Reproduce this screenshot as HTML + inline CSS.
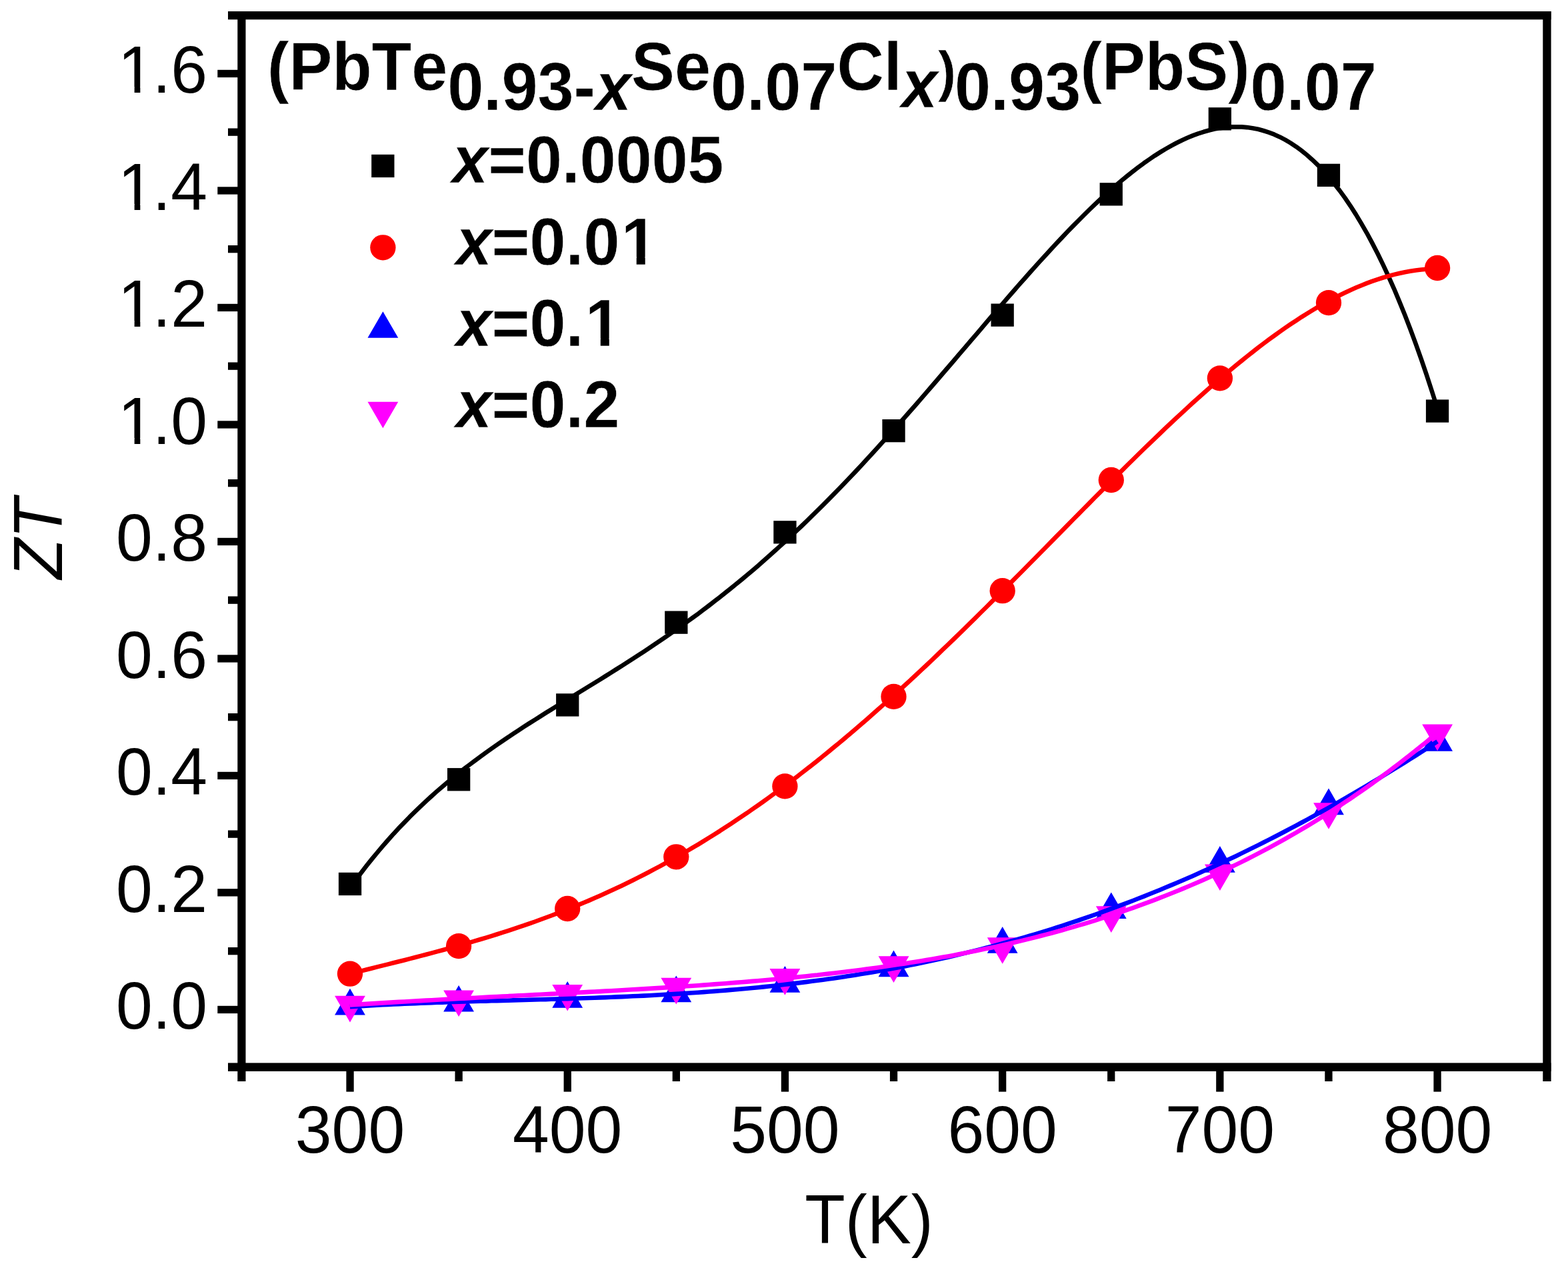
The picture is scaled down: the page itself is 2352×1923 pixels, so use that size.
<!DOCTYPE html>
<html lang="en"><head><meta charset="utf-8"><title>ZT vs T</title>
<style>
html,body{margin:0;padding:0;background:#fff;}
body{width:2352px;height:1923px;overflow:hidden;}
svg{display:block;}
text{font-family:"Liberation Sans",sans-serif;fill:#000;font-kerning:none;}
.tk{font-size:98.5px;}
.ttl{font-size:97.3px;font-weight:bold;}
.lg{font-size:97.0px;font-weight:bold;}
.ax{font-size:99px;}
.i{font-style:italic;}
.sp{font-size:80px;}
.tb{stroke:#fff;stroke-width:0.4px;stroke-linejoin:round;}
</style></head><body>
<svg width="2352" height="1923" viewBox="0 0 2352 1923">
<rect width="2352" height="1923" fill="#fff"/>
<g fill="#000">
<rect x="356.3" y="17.0" width="12.2" height="1605.0"/>
<rect x="2314.3" y="17.0" width="12.3" height="1605.0"/>
<rect x="342.0" y="17.0" width="1984.6" height="12.3"/>
<rect x="342.0" y="1594.4" width="1984.6" height="12.5"/>
<rect x="326.3" y="1508.8" width="31.0" height="11.3"/>
<rect x="342.0" y="1421.0" width="15.3" height="11.3"/>
<rect x="326.3" y="1333.2" width="31.0" height="11.3"/>
<rect x="342.0" y="1245.5" width="15.3" height="11.3"/>
<rect x="326.3" y="1157.8" width="31.0" height="11.3"/>
<rect x="342.0" y="1070.0" width="15.3" height="11.3"/>
<rect x="326.3" y="982.3" width="31.0" height="11.3"/>
<rect x="342.0" y="894.5" width="15.3" height="11.3"/>
<rect x="326.3" y="806.8" width="31.0" height="11.3"/>
<rect x="342.0" y="719.0" width="15.3" height="11.3"/>
<rect x="326.3" y="631.3" width="31.0" height="11.3"/>
<rect x="342.0" y="543.5" width="15.3" height="11.3"/>
<rect x="326.3" y="455.8" width="31.0" height="11.3"/>
<rect x="342.0" y="368.0" width="15.3" height="11.3"/>
<rect x="326.3" y="280.3" width="31.0" height="11.3"/>
<rect x="342.0" y="192.5" width="15.3" height="11.3"/>
<rect x="326.3" y="104.8" width="31.0" height="11.3"/>
<rect x="519.4" y="1605.9" width="11.3" height="31.7"/>
<rect x="682.5" y="1605.9" width="11.3" height="16.1"/>
<rect x="845.6" y="1605.9" width="11.3" height="31.7"/>
<rect x="1008.7" y="1605.9" width="11.3" height="16.1"/>
<rect x="1171.8" y="1605.9" width="11.3" height="31.7"/>
<rect x="1334.9" y="1605.9" width="11.3" height="16.1"/>
<rect x="1498.0" y="1605.9" width="11.3" height="31.7"/>
<rect x="1661.1" y="1605.9" width="11.3" height="16.1"/>
<rect x="1824.2" y="1605.9" width="11.3" height="31.7"/>
<rect x="1987.3" y="1605.9" width="11.3" height="16.1"/>
<rect x="2150.4" y="1605.9" width="11.3" height="31.7"/>
</g>
<text class="tk" transform="translate(174.07,1543.10) scale(1.0000,1.0120)">0.0</text>
<text class="tk" transform="translate(174.07,1367.60) scale(1.0000,1.0120)">0.2</text>
<text class="tk" transform="translate(174.07,1192.10) scale(1.0000,1.0120)">0.4</text>
<text class="tk" transform="translate(174.07,1016.60) scale(1.0000,1.0120)">0.6</text>
<text class="tk" transform="translate(174.07,841.10) scale(1.0000,1.0120)">0.8</text>
<text class="tk" transform="translate(174.07,665.60) scale(1.0000,1.0120)"><tspan dx="2.8">1</tspan><tspan dx="-2.8">.0</tspan></text>
<rect x="183.17" y="656.95" width="18.47" height="9.85" fill="#fff"/><rect x="210.35" y="656.95" width="17.70" height="9.85" fill="#fff"/>
<text class="tk" transform="translate(174.07,490.10) scale(1.0000,1.0120)"><tspan dx="2.8">1</tspan><tspan dx="-2.8">.2</tspan></text>
<rect x="183.17" y="481.45" width="18.47" height="9.85" fill="#fff"/><rect x="210.35" y="481.45" width="17.70" height="9.85" fill="#fff"/>
<text class="tk" transform="translate(174.07,314.60) scale(1.0000,1.0120)"><tspan dx="2.8">1</tspan><tspan dx="-2.8">.4</tspan></text>
<rect x="183.17" y="305.95" width="18.47" height="9.85" fill="#fff"/><rect x="210.35" y="305.95" width="17.70" height="9.85" fill="#fff"/>
<text class="tk" transform="translate(174.07,139.10) scale(1.0000,1.0120)"><tspan dx="2.8">1</tspan><tspan dx="-2.8">.6</tspan></text>
<rect x="183.17" y="130.45" width="18.47" height="9.85" fill="#fff"/><rect x="210.35" y="130.45" width="17.70" height="9.85" fill="#fff"/>
<text class="tk" transform="translate(525.00,1729.20) scale(1.0000,1.0120)" text-anchor="middle">300</text>
<text class="tk" transform="translate(851.22,1729.20) scale(1.0000,1.0120)" text-anchor="middle">400</text>
<text class="tk" transform="translate(1177.44,1729.20) scale(1.0000,1.0120)" text-anchor="middle">500</text>
<text class="tk" transform="translate(1503.66,1729.20) scale(1.0000,1.0120)" text-anchor="middle">600</text>
<text class="tk" transform="translate(1829.88,1729.20) scale(1.0000,1.0120)" text-anchor="middle">700</text>
<text class="tk" transform="translate(2156.10,1729.20) scale(1.0000,1.0120)" text-anchor="middle">800</text>
<text class="ax" transform="translate(1207.30,1865.00) scale(1.0000,1.0400)">T(K)</text>
<text class="ax i" transform="translate(93.30,868.50) rotate(-90) scale(1.0000,1.0400)">ZT</text>
<g>
<rect x="507.9" y="1308.8" width="34.3" height="34.3" fill="#000"/>
<rect x="671.0" y="1152.1" width="34.3" height="34.3" fill="#000"/>
<rect x="834.1" y="1040.3" width="34.3" height="34.3" fill="#000"/>
<rect x="997.2" y="916.5" width="34.3" height="34.3" fill="#000"/>
<rect x="1160.3" y="781.2" width="34.3" height="34.3" fill="#000"/>
<rect x="1323.4" y="629.0" width="34.3" height="34.3" fill="#000"/>
<rect x="1486.5" y="455.5" width="34.3" height="34.3" fill="#000"/>
<rect x="1649.6" y="274.2" width="34.3" height="34.3" fill="#000"/>
<rect x="1812.7" y="161.2" width="34.3" height="34.3" fill="#000"/>
<rect x="1975.8" y="245.7" width="34.3" height="34.3" fill="#000"/>
<rect x="2138.9" y="599.4" width="34.3" height="34.3" fill="#000"/>
</g>
<g>
<circle cx="525.0" cy="1460.7" r="19.15" fill="#f00"/>
<circle cx="688.1" cy="1419.1" r="19.15" fill="#f00"/>
<circle cx="851.2" cy="1363.0" r="19.15" fill="#f00"/>
<circle cx="1014.3" cy="1285.3" r="19.15" fill="#f00"/>
<circle cx="1177.4" cy="1179.4" r="19.15" fill="#f00"/>
<circle cx="1340.5" cy="1044.9" r="19.15" fill="#f00"/>
<circle cx="1503.7" cy="886.2" r="19.15" fill="#f00"/>
<circle cx="1666.8" cy="720.0" r="19.15" fill="#f00"/>
<circle cx="1829.9" cy="567.4" r="19.15" fill="#f00"/>
<circle cx="1993.0" cy="454.1" r="19.15" fill="#f00"/>
<circle cx="2156.1" cy="402.0" r="19.15" fill="#f00"/>
</g>
<g>
<polygon points="525.0,1482.8 502.1,1522.4 547.9,1522.4" fill="#00f"/>
<polygon points="688.1,1478.0 665.2,1517.6 711.0,1517.6" fill="#00f"/>
<polygon points="851.2,1472.1 828.3,1511.7 874.1,1511.7" fill="#00f"/>
<polygon points="1014.3,1463.6 991.4,1503.2 1037.2,1503.2" fill="#00f"/>
<polygon points="1177.4,1449.1 1154.5,1488.7 1200.3,1488.7" fill="#00f"/>
<polygon points="1340.5,1425.6 1317.6,1465.2 1363.5,1465.2" fill="#00f"/>
<polygon points="1503.7,1390.1 1480.8,1429.7 1526.6,1429.7" fill="#00f"/>
<polygon points="1666.8,1338.5 1643.9,1378.1 1689.7,1378.1" fill="#00f"/>
<polygon points="1829.9,1269.1 1807.0,1308.7 1852.8,1308.7" fill="#00f"/>
<polygon points="1993.0,1182.6 1970.1,1222.2 2015.9,1222.2" fill="#00f"/>
<polygon points="2156.1,1087.1 2133.2,1126.7 2179.0,1126.7" fill="#00f"/>
</g>
<g>
<polygon points="525.0,1533.4 502.1,1493.8 547.9,1493.8" fill="#f0f"/>
<polygon points="688.1,1525.1 665.2,1485.5 711.0,1485.5" fill="#f0f"/>
<polygon points="851.2,1516.5 828.3,1476.9 874.1,1476.9" fill="#f0f"/>
<polygon points="1014.3,1506.4 991.4,1466.8 1037.2,1466.8" fill="#f0f"/>
<polygon points="1177.4,1492.7 1154.5,1453.1 1200.3,1453.1" fill="#f0f"/>
<polygon points="1340.5,1473.9 1317.6,1434.3 1363.5,1434.3" fill="#f0f"/>
<polygon points="1503.7,1445.8 1480.8,1406.2 1526.6,1406.2" fill="#f0f"/>
<polygon points="1666.8,1398.9 1643.9,1359.3 1689.7,1359.3" fill="#f0f"/>
<polygon points="1829.9,1336.0 1807.0,1296.4 1852.8,1296.4" fill="#f0f"/>
<polygon points="1993.0,1243.8 1970.1,1204.2 2015.9,1204.2" fill="#f0f"/>
<polygon points="2156.1,1126.2 2133.2,1086.6 2179.0,1086.6" fill="#f0f"/>
</g>
<polyline fill="none" stroke="#000" stroke-width="6.6" stroke-linejoin="round" stroke-linecap="butt" points="525.0,1331.7 533.2,1320.5 541.3,1309.7 549.5,1299.1 557.6,1288.9 565.8,1279.0 573.9,1269.4 582.1,1260.0 590.2,1250.9 598.4,1242.1 606.6,1233.6 614.7,1225.2 622.9,1217.2 631.0,1209.3 639.2,1201.6 647.3,1194.2 655.5,1186.9 663.6,1179.9 671.8,1173.0 680.0,1166.2 688.1,1159.7 696.3,1153.2 704.4,1147.0 712.6,1140.8 720.7,1134.8 728.9,1128.9 737.0,1123.1 745.2,1117.4 753.4,1111.8 761.5,1106.3 769.7,1100.8 777.8,1095.5 786.0,1090.1 794.1,1084.9 802.3,1079.7 810.4,1074.6 818.6,1069.4 826.8,1064.4 834.9,1059.3 843.1,1054.3 851.2,1049.3 859.4,1044.3 867.5,1039.2 875.7,1034.2 883.8,1029.2 892.0,1024.2 900.2,1019.2 908.3,1014.1 916.5,1009.0 924.6,1003.9 932.8,998.7 940.9,993.5 949.1,988.3 957.2,983.0 965.4,977.7 973.6,972.3 981.7,966.8 989.9,961.3 998.0,955.7 1006.2,950.1 1014.3,944.4 1022.5,938.6 1030.6,932.7 1038.8,926.8 1047.0,920.8 1055.1,914.7 1063.3,908.5 1071.4,902.2 1079.6,895.9 1087.7,889.4 1095.9,882.9 1104.0,876.3 1112.2,869.6 1120.4,862.8 1128.5,855.9 1136.7,848.9 1144.8,841.8 1153.0,834.6 1161.1,827.3 1169.3,819.9 1177.4,812.5 1185.6,804.9 1193.8,797.2 1201.9,789.5 1210.1,781.6 1218.2,773.7 1226.4,765.7 1234.5,757.6 1242.7,749.4 1250.8,741.1 1259.0,732.7 1267.2,724.2 1275.3,715.7 1283.5,707.1 1291.6,698.4 1299.8,689.6 1307.9,680.7 1316.1,671.8 1324.2,662.8 1332.4,653.8 1340.5,644.7 1348.7,635.5 1356.9,626.3 1365.0,617.0 1373.2,607.7 1381.3,598.3 1389.5,588.9 1397.6,579.5 1405.8,570.0 1413.9,560.5 1422.1,551.0 1430.3,541.5 1438.4,531.9 1446.6,522.4 1454.7,512.8 1462.9,503.3 1471.0,493.8 1479.2,484.2 1487.3,474.7 1495.5,465.2 1503.7,455.8 1511.8,446.4 1520.0,437.0 1528.1,427.7 1536.3,418.5 1544.4,409.3 1552.6,400.1 1560.7,391.1 1568.9,382.2 1577.1,373.3 1585.2,364.5 1593.4,355.9 1601.5,347.3 1609.7,338.9 1617.8,330.7 1626.0,322.5 1634.1,314.5 1642.3,306.7 1650.5,299.0 1658.6,291.6 1666.8,284.3 1674.9,277.2 1683.1,270.2 1691.2,263.6 1699.4,257.1 1707.5,250.8 1715.7,244.8 1723.9,239.1 1732.0,233.6 1740.2,228.4 1748.3,223.5 1756.5,218.8 1764.6,214.5 1772.8,210.5 1780.9,206.8 1789.1,203.4 1797.3,200.4 1805.4,197.8 1813.6,195.5 1821.7,193.6 1829.9,192.1 1838.0,191.1 1846.2,190.4 1854.3,190.2 1862.5,190.4 1870.7,191.1 1878.8,192.2 1887.0,193.8 1895.1,196.0 1903.3,198.6 1911.4,201.7 1919.6,205.4 1927.7,209.7 1935.9,214.5 1944.1,219.9 1952.2,225.9 1960.4,232.5 1968.5,239.7 1976.7,247.5 1984.8,256.0 1993.0,265.2 2001.1,275.1 2009.3,285.6 2017.5,296.9 2025.6,308.8 2033.8,321.6 2041.9,335.1 2050.1,349.3 2058.2,364.4 2066.4,380.2 2074.5,396.9 2082.7,414.5 2090.9,432.8 2099.0,452.1 2107.2,472.2 2115.3,493.3 2123.5,515.3 2131.6,538.2 2139.8,562.1 2147.9,587.0 2156.1,612.8"/>
<polyline fill="none" stroke="#f00" stroke-width="6.6" stroke-linejoin="round" stroke-linecap="butt" points="525.0,1460.7 533.2,1458.7 541.3,1456.6 549.5,1454.5 557.6,1452.5 565.8,1450.4 573.9,1448.4 582.1,1446.4 590.2,1444.3 598.4,1442.2 606.6,1440.2 614.7,1438.1 622.9,1436.0 631.0,1433.9 639.2,1431.8 647.3,1429.6 655.5,1427.4 663.6,1425.2 671.8,1423.0 680.0,1420.8 688.1,1418.5 696.3,1416.2 704.4,1413.8 712.6,1411.4 720.7,1409.0 728.9,1406.6 737.0,1404.1 745.2,1401.5 753.4,1398.9 761.5,1396.3 769.7,1393.6 777.8,1390.9 786.0,1388.2 794.1,1385.3 802.3,1382.5 810.4,1379.5 818.6,1376.5 826.8,1373.5 834.9,1370.4 843.1,1367.2 851.2,1364.0 859.4,1360.8 867.5,1357.4 875.7,1354.0 883.8,1350.6 892.0,1347.0 900.2,1343.4 908.3,1339.8 916.5,1336.0 924.6,1332.3 932.8,1328.4 940.9,1324.5 949.1,1320.5 957.2,1316.4 965.4,1312.2 973.6,1308.0 981.7,1303.7 989.9,1299.4 998.0,1294.9 1006.2,1290.4 1014.3,1285.9 1022.5,1281.2 1030.6,1276.5 1038.8,1271.7 1047.0,1266.8 1055.1,1261.9 1063.3,1256.8 1071.4,1251.7 1079.6,1246.6 1087.7,1241.3 1095.9,1236.0 1104.0,1230.6 1112.2,1225.1 1120.4,1219.6 1128.5,1213.9 1136.7,1208.2 1144.8,1202.5 1153.0,1196.6 1161.1,1190.7 1169.3,1184.7 1177.4,1178.7 1185.6,1172.5 1193.8,1166.3 1201.9,1160.0 1210.1,1153.7 1218.2,1147.3 1226.4,1140.8 1234.5,1134.2 1242.7,1127.6 1250.8,1120.9 1259.0,1114.2 1267.2,1107.4 1275.3,1100.5 1283.5,1093.5 1291.6,1086.5 1299.8,1079.4 1307.9,1072.3 1316.1,1065.1 1324.2,1057.9 1332.4,1050.6 1340.5,1043.2 1348.7,1035.8 1356.9,1028.3 1365.0,1020.8 1373.2,1013.3 1381.3,1005.6 1389.5,998.0 1397.6,990.3 1405.8,982.5 1413.9,974.7 1422.1,966.9 1430.3,959.0 1438.4,951.1 1446.6,943.1 1454.7,935.1 1462.9,927.1 1471.0,919.0 1479.2,911.0 1487.3,902.9 1495.5,894.7 1503.7,886.6 1511.8,878.4 1520.0,870.2 1528.1,862.0 1536.3,853.7 1544.4,845.5 1552.6,837.2 1560.7,829.0 1568.9,820.7 1577.1,812.4 1585.2,804.1 1593.4,795.9 1601.5,787.6 1609.7,779.3 1617.8,771.1 1626.0,762.8 1634.1,754.6 1642.3,746.3 1650.5,738.1 1658.6,730.0 1666.8,721.8 1674.9,713.7 1683.1,705.6 1691.2,697.5 1699.4,689.5 1707.5,681.5 1715.7,673.5 1723.9,665.6 1732.0,657.8 1740.2,650.0 1748.3,642.2 1756.5,634.5 1764.6,626.9 1772.8,619.3 1780.9,611.8 1789.1,604.3 1797.3,597.0 1805.4,589.7 1813.6,582.5 1821.7,575.3 1829.9,568.3 1838.0,561.3 1846.2,554.5 1854.3,547.7 1862.5,541.1 1870.7,534.5 1878.8,528.1 1887.0,521.7 1895.1,515.5 1903.3,509.4 1911.4,503.5 1919.6,497.6 1927.7,491.9 1935.9,486.3 1944.1,480.9 1952.2,475.6 1960.4,470.5 1968.5,465.5 1976.7,460.7 1984.8,456.0 1993.0,451.5 2001.1,447.1 2009.3,443.0 2017.5,439.0 2025.6,435.2 2033.8,431.6 2041.9,428.2 2050.1,424.9 2058.2,421.9 2066.4,419.1 2074.5,416.5 2082.7,414.1 2090.9,411.9 2099.0,410.0 2107.2,408.2 2115.3,406.7 2123.5,405.5 2131.6,404.5 2139.8,403.7 2147.9,403.2 2156.1,403.0"/>
<polyline fill="none" stroke="#00f" stroke-width="6.6" stroke-linejoin="round" stroke-linecap="butt" points="525.0,1510.1 533.2,1509.6 541.3,1509.1 549.5,1508.6 557.6,1508.1 565.8,1507.7 573.9,1507.3 582.1,1506.9 590.2,1506.5 598.4,1506.1 606.6,1505.7 614.7,1505.4 622.9,1505.1 631.0,1504.7 639.2,1504.4 647.3,1504.1 655.5,1503.8 663.6,1503.6 671.8,1503.3 680.0,1503.0 688.1,1502.8 696.3,1502.5 704.4,1502.3 712.6,1502.0 720.7,1501.8 728.9,1501.6 737.0,1501.3 745.2,1501.1 753.4,1500.9 761.5,1500.7 769.7,1500.4 777.8,1500.2 786.0,1500.0 794.1,1499.8 802.3,1499.5 810.4,1499.3 818.6,1499.1 826.8,1498.8 834.9,1498.6 843.1,1498.3 851.2,1498.1 859.4,1497.8 867.5,1497.5 875.7,1497.3 883.8,1497.0 892.0,1496.7 900.2,1496.4 908.3,1496.1 916.5,1495.8 924.6,1495.4 932.8,1495.1 940.9,1494.7 949.1,1494.3 957.2,1494.0 965.4,1493.6 973.6,1493.2 981.7,1492.7 989.9,1492.3 998.0,1491.8 1006.2,1491.4 1014.3,1490.9 1022.5,1490.4 1030.6,1489.8 1038.8,1489.3 1047.0,1488.7 1055.1,1488.1 1063.3,1487.5 1071.4,1486.9 1079.6,1486.3 1087.7,1485.6 1095.9,1484.9 1104.0,1484.2 1112.2,1483.5 1120.4,1482.8 1128.5,1482.0 1136.7,1481.2 1144.8,1480.4 1153.0,1479.5 1161.1,1478.7 1169.3,1477.8 1177.4,1476.8 1185.6,1475.9 1193.8,1474.9 1201.9,1473.9 1210.1,1472.9 1218.2,1471.8 1226.4,1470.8 1234.5,1469.7 1242.7,1468.5 1250.8,1467.4 1259.0,1466.2 1267.2,1464.9 1275.3,1463.7 1283.5,1462.4 1291.6,1461.1 1299.8,1459.7 1307.9,1458.4 1316.1,1456.9 1324.2,1455.5 1332.4,1454.0 1340.5,1452.5 1348.7,1451.0 1356.9,1449.4 1365.0,1447.8 1373.2,1446.2 1381.3,1444.5 1389.5,1442.8 1397.6,1441.1 1405.8,1439.3 1413.9,1437.5 1422.1,1435.7 1430.3,1433.8 1438.4,1431.9 1446.6,1429.9 1454.7,1427.9 1462.9,1425.9 1471.0,1423.9 1479.2,1421.8 1487.3,1419.6 1495.5,1417.5 1503.7,1415.3 1511.8,1413.0 1520.0,1410.8 1528.1,1408.5 1536.3,1406.1 1544.4,1403.7 1552.6,1401.3 1560.7,1398.8 1568.9,1396.3 1577.1,1393.8 1585.2,1391.2 1593.4,1388.6 1601.5,1385.9 1609.7,1383.2 1617.8,1380.5 1626.0,1377.7 1634.1,1374.9 1642.3,1372.0 1650.5,1369.2 1658.6,1366.2 1666.8,1363.2 1674.9,1360.2 1683.1,1357.2 1691.2,1354.1 1699.4,1351.0 1707.5,1347.8 1715.7,1344.6 1723.9,1341.3 1732.0,1338.0 1740.2,1334.7 1748.3,1331.3 1756.5,1327.9 1764.6,1324.5 1772.8,1321.0 1780.9,1317.5 1789.1,1313.9 1797.3,1310.3 1805.4,1306.6 1813.6,1302.9 1821.7,1299.2 1829.9,1295.4 1838.0,1291.6 1846.2,1287.7 1854.3,1283.9 1862.5,1279.9 1870.7,1275.9 1878.8,1271.9 1887.0,1267.9 1895.1,1263.8 1903.3,1259.6 1911.4,1255.5 1919.6,1251.3 1927.7,1247.0 1935.9,1242.7 1944.1,1238.4 1952.2,1234.0 1960.4,1229.6 1968.5,1225.2 1976.7,1220.7 1984.8,1216.1 1993.0,1211.6 2001.1,1207.0 2009.3,1202.3 2017.5,1197.6 2025.6,1192.9 2033.8,1188.2 2041.9,1183.4 2050.1,1178.5 2058.2,1173.7 2066.4,1168.8 2074.5,1163.8 2082.7,1158.8 2090.9,1153.8 2099.0,1148.7 2107.2,1143.6 2115.3,1138.5 2123.5,1133.4 2131.6,1128.2 2139.8,1122.9 2147.9,1117.6 2156.1,1112.3"/>
<polyline fill="none" stroke="#f0f" stroke-width="6.6" stroke-linejoin="round" stroke-linecap="butt" points="525.0,1507.4 533.2,1506.9 541.3,1506.4 549.5,1505.9 557.6,1505.4 565.8,1504.9 573.9,1504.4 582.1,1503.9 590.2,1503.4 598.4,1502.9 606.6,1502.5 614.7,1502.0 622.9,1501.5 631.0,1501.1 639.2,1500.6 647.3,1500.2 655.5,1499.7 663.6,1499.3 671.8,1498.9 680.0,1498.4 688.1,1498.0 696.3,1497.6 704.4,1497.1 712.6,1496.7 720.7,1496.3 728.9,1495.9 737.0,1495.4 745.2,1495.0 753.4,1494.6 761.5,1494.2 769.7,1493.8 777.8,1493.4 786.0,1493.0 794.1,1492.6 802.3,1492.1 810.4,1491.7 818.6,1491.3 826.8,1490.9 834.9,1490.5 843.1,1490.1 851.2,1489.6 859.4,1489.2 867.5,1488.8 875.7,1488.4 883.8,1487.9 892.0,1487.5 900.2,1487.1 908.3,1486.6 916.5,1486.2 924.6,1485.7 932.8,1485.3 940.9,1484.8 949.1,1484.3 957.2,1483.9 965.4,1483.4 973.6,1482.9 981.7,1482.4 989.9,1481.9 998.0,1481.4 1006.2,1480.9 1014.3,1480.3 1022.5,1479.8 1030.6,1479.3 1038.8,1478.7 1047.0,1478.2 1055.1,1477.6 1063.3,1477.0 1071.4,1476.4 1079.6,1475.8 1087.7,1475.2 1095.9,1474.5 1104.0,1473.9 1112.2,1473.2 1120.4,1472.6 1128.5,1471.9 1136.7,1471.2 1144.8,1470.5 1153.0,1469.7 1161.1,1469.0 1169.3,1468.2 1177.4,1467.5 1185.6,1466.7 1193.8,1465.9 1201.9,1465.0 1210.1,1464.2 1218.2,1463.3 1226.4,1462.5 1234.5,1461.5 1242.7,1460.6 1250.8,1459.7 1259.0,1458.7 1267.2,1457.7 1275.3,1456.7 1283.5,1455.7 1291.6,1454.7 1299.8,1453.6 1307.9,1452.5 1316.1,1451.4 1324.2,1450.2 1332.4,1449.0 1340.5,1447.8 1348.7,1446.6 1356.9,1445.4 1365.0,1444.1 1373.2,1442.8 1381.3,1441.5 1389.5,1440.1 1397.6,1438.7 1405.8,1437.3 1413.9,1435.8 1422.1,1434.4 1430.3,1432.9 1438.4,1431.3 1446.6,1429.7 1454.7,1428.1 1462.9,1426.5 1471.0,1424.8 1479.2,1423.1 1487.3,1421.4 1495.5,1419.6 1503.7,1417.8 1511.8,1415.9 1520.0,1414.0 1528.1,1412.1 1536.3,1410.1 1544.4,1408.1 1552.6,1406.1 1560.7,1404.0 1568.9,1401.9 1577.1,1399.7 1585.2,1397.5 1593.4,1395.2 1601.5,1392.9 1609.7,1390.6 1617.8,1388.2 1626.0,1385.8 1634.1,1383.3 1642.3,1380.8 1650.5,1378.2 1658.6,1375.6 1666.8,1372.9 1674.9,1370.2 1683.1,1367.5 1691.2,1364.7 1699.4,1361.8 1707.5,1358.9 1715.7,1355.9 1723.9,1352.9 1732.0,1349.8 1740.2,1346.7 1748.3,1343.5 1756.5,1340.3 1764.6,1337.0 1772.8,1333.6 1780.9,1330.2 1789.1,1326.8 1797.3,1323.2 1805.4,1319.7 1813.6,1316.0 1821.7,1312.3 1829.9,1308.6 1838.0,1304.7 1846.2,1300.8 1854.3,1296.9 1862.5,1292.9 1870.7,1288.8 1878.8,1284.6 1887.0,1280.4 1895.1,1276.1 1903.3,1271.8 1911.4,1267.4 1919.6,1262.9 1927.7,1258.3 1935.9,1253.7 1944.1,1249.0 1952.2,1244.2 1960.4,1239.4 1968.5,1234.5 1976.7,1229.5 1984.8,1224.4 1993.0,1219.2 2001.1,1214.0 2009.3,1208.7 2017.5,1203.3 2025.6,1197.9 2033.8,1192.3 2041.9,1186.7 2050.1,1181.0 2058.2,1175.2 2066.4,1169.4 2074.5,1163.4 2082.7,1157.4 2090.9,1151.2 2099.0,1145.0 2107.2,1138.7 2115.3,1132.4 2123.5,1125.9 2131.6,1119.3 2139.8,1112.7 2147.9,1105.9 2156.1,1099.1"/>
<text class="ttl tb" transform="translate(401.0,134.6) scale(1,1.045)">(PbTe<tspan dy="28.90">0.93-<tspan class="i">x</tspan></tspan><tspan dy="-28.90">Se</tspan><tspan dy="28.90">0.07</tspan><tspan dy="-28.90">Cl</tspan><tspan class="i" dx="-0.5" dy="25.26">x</tspan><tspan class="sp" dx="1.0" dy="-24.31">)</tspan><tspan dx="-2.1" dy="27.94">0.93</tspan><tspan dx="-0.7" dy="-28.90">(PbS)</tspan><tspan dx="1.0" dy="28.90">0.07</tspan></text>
<rect x="557.2" y="231.8" width="34.3" height="34.3" fill="#000"/>
<text class="lg tb" transform="translate(678.30,274.30) scale(1.0000,1.0300)"><tspan class="i">x</tspan>=0.0005</text>
<circle cx="574.4" cy="371.3" r="19.15" fill="#f00"/>
<text class="lg tb" transform="translate(683.90,396.60) scale(1.0000,1.0300)"><tspan class="i">x</tspan>=0.0<tspan dx="2.6">1</tspan></text>
<rect x="936.85" y="385.20" width="17.88" height="12.60" fill="#fff"/><rect x="967.74" y="385.20" width="16.65" height="12.60" fill="#fff"/>
<polygon points="574.4,467.2 551.5,506.8 597.3,506.8" fill="#00f"/>
<text class="lg tb" transform="translate(683.90,518.90) scale(1.0000,1.0300)"><tspan class="i">x</tspan>=0.<tspan dx="2.6">1</tspan></text>
<rect x="882.90" y="507.50" width="17.88" height="12.60" fill="#fff"/><rect x="913.79" y="507.50" width="16.65" height="12.60" fill="#fff"/>
<polygon points="574.4,642.3 551.5,602.7 597.3,602.7" fill="#f0f"/>
<text class="lg tb" transform="translate(683.90,641.20) scale(1.0000,1.0300)"><tspan class="i">x</tspan>=0.2</text>
</svg></body></html>
